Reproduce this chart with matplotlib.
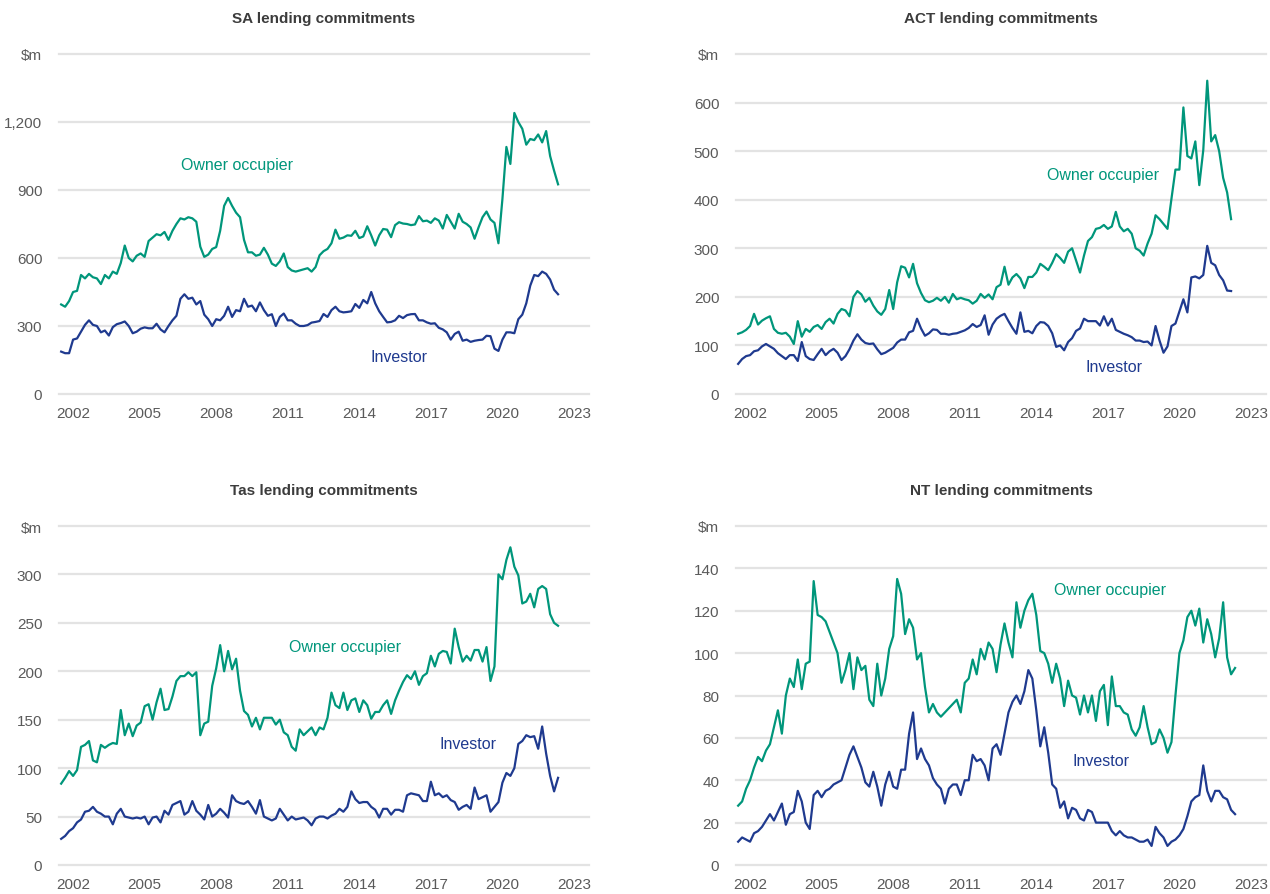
import numpy as np
import matplotlib
matplotlib.use("Agg")
import matplotlib.pyplot as plt
from matplotlib import font_manager

# fuente estrecha si existe
nombres = {f.name for f in font_manager.fontManager.ttflist}
FUENTE = "Liberation Sans Narrow" if "Liberation Sans Narrow" in nombres else "Liberation Sans"
plt.rcParams["font.family"] = [FUENTE, "DejaVu Sans"]

VERDE = "#00967b"
AZUL = "#1f3a8f"
GRIS = "#5a5a5a"
REJILLA = "#e3e3e3"

INICIO = 2001.5  # primer dato, cada punto = 2 meses

sa_oo = [395, 385, 410, 450, 455, 525, 510, 530, 515, 510, 485, 525,
         510, 540, 530, 578, 655, 600, 585, 610, 620, 605, 675, 690,
         705, 700, 715, 680, 720, 750, 775, 770, 780, 775, 760, 650,
         605, 615, 640, 648, 720, 830, 865, 830, 800, 780, 680, 625,
         625, 610, 615, 645, 615, 575, 565, 585, 620, 560, 545, 540,
         545, 550, 555, 540, 560, 612, 630, 640, 665, 725, 685, 690,
         700, 698, 720, 688, 695, 740, 700, 655, 700, 728, 725, 692,
         745, 758, 752, 750, 745, 748, 785, 762, 765, 755, 775, 765,
         730, 790, 760, 730, 795, 760, 750, 735, 685, 735, 780, 805,
         770, 755, 665, 860, 1090, 1015, 1240, 1200, 1170, 1100, 1125, 1120,
         1145, 1110, 1160, 1050, 985, 925]
sa_inv = [187, 180, 180, 240, 245, 275, 305, 325, 305, 300, 272, 280,
          258, 295, 308, 313, 320, 300, 268, 275, 288, 294, 290, 290,
          310, 285, 272, 300, 325, 345, 420, 440, 420, 425, 395, 410,
          350, 330, 300, 330, 325, 345, 385, 340, 370, 365, 420, 385,
          390, 365, 404, 370, 345, 352, 300, 340, 355, 325, 325, 310,
          300, 300, 304, 315, 318, 322, 353, 340, 370, 385, 365, 360,
          362, 365, 397, 380, 415, 400, 450, 400, 365, 340, 316, 318,
          325, 345, 335, 348, 352, 353, 325, 325, 316, 310, 312, 292,
          285, 272, 240, 265, 275, 235, 240, 230, 235, 238, 240, 257,
          255, 200, 190, 240, 272, 272, 268, 330, 350, 400, 478, 525,
          520, 540, 530, 505, 460, 440]

act_oo = [124, 127, 132, 140, 165, 143, 151, 156, 160, 134, 126, 124,
          126, 118, 103, 150, 118, 134, 128, 138, 142, 134, 148, 155,
          145, 165, 175, 172, 160, 200, 212, 205, 190, 198, 182, 170,
          163, 175, 214, 175, 230, 263, 260, 240, 268, 228, 208, 193,
          189, 192, 198, 192, 200, 188, 206, 195, 198, 195, 193, 186,
          192, 206, 198, 205, 195, 220, 225, 262, 225, 240, 247, 238,
          218, 241, 241, 250, 268, 262, 255, 270, 288, 280, 270, 293,
          300, 275, 250, 285, 315, 323, 340, 342, 348, 340, 345, 375,
          345, 335, 340, 330, 300, 295, 285, 310, 330, 368, 360, 350,
          340, 402, 462, 462, 590, 490, 485, 520, 430, 502, 645, 520,
          533, 500, 445, 415, 360]
act_inv = [62, 72, 78, 80, 88, 90, 98, 103, 98, 93, 84, 78,
           72, 80, 80, 68, 107, 78, 72, 70, 82, 93, 80, 88,
           93, 85, 70, 78, 92, 110, 123, 112, 105, 103, 104, 92,
           82, 85, 90, 95, 106, 112, 112, 127, 130, 155, 135, 120,
           125, 133, 132, 124, 124, 122, 124, 125, 128, 131, 136, 144,
           138, 142, 162, 122, 143, 155, 161, 165, 150, 136, 124, 168,
           128, 130, 125, 140, 148, 147, 140, 125, 97, 100, 90, 107,
           115, 130, 135, 155, 150, 150, 150, 141, 160, 141, 155, 132,
           128, 124, 121, 117, 110, 110, 107, 108, 100, 140, 110, 85,
           98, 140, 145, 170, 195, 168, 240, 242, 238, 245, 305, 270,
           265, 245, 234, 213, 212]

tas_oo = [84, 90, 97, 92, 98, 122, 124, 128, 108, 106, 124, 121,
          124, 126, 125, 160, 134, 146, 133, 144, 147, 164, 166, 150,
          168, 182, 160, 161, 174, 190, 195, 195, 199, 195, 199, 134,
          146, 148, 185, 203, 227, 200, 221, 202, 213, 180, 159, 155,
          143, 152, 140, 152, 152, 152, 145, 150, 137, 134, 122, 118,
          140, 134, 138, 142, 134, 142, 140, 152, 178, 165, 162, 178,
          160, 170, 172, 158, 170, 165, 151, 158, 158, 165, 170, 156,
          170, 180, 189, 196, 192, 200, 186, 195, 198, 216, 205, 218,
          221, 220, 208, 244, 225, 210, 216, 211, 222, 222, 210, 225,
          190, 205, 300, 295, 315, 328, 308, 299, 270, 272, 280, 266,
          285, 288, 285, 259, 250, 247]
tas_inv = [27, 30, 35, 38, 44, 47, 55, 56, 60, 55, 53, 50,
           50, 42, 53, 58, 50, 49, 48, 49, 48, 50, 42, 49,
           50, 44, 56, 52, 62, 64, 66, 52, 55, 66, 56, 52,
           47, 62, 50, 53, 58, 54, 49, 72, 66, 64, 63, 66,
           60, 53, 67, 50, 48, 46, 48, 58, 52, 46, 50, 47,
           48, 49, 46, 41, 48, 50, 50, 48, 51, 53, 58, 55,
           60, 76, 68, 64, 65, 65, 60, 57, 49, 58, 58, 52,
           57, 57, 55, 72, 74, 73, 72, 66, 66, 86, 72, 74,
           70, 72, 67, 65, 57, 60, 62, 58, 80, 68, 70, 72,
           55, 60, 65, 85, 95, 92, 100, 125, 128, 134, 132, 133,
           120, 143, 115, 92, 76, 90]

nt_oo = [28, 30, 36, 40, 46, 51, 49, 54, 57, 65, 73, 62,
         80, 88, 84, 97, 83, 95, 96, 134, 118, 117, 115, 110,
         105, 100, 86, 92, 100, 83, 98, 92, 94, 78, 75, 95,
         80, 88, 102, 108, 135, 128, 109, 116, 112, 97, 100, 84,
         72, 76, 72, 70, 72, 74, 76, 78, 72, 86, 88, 97,
         90, 102, 97, 105, 102, 91, 104, 114, 105, 98, 124, 112,
         120, 125, 128, 118, 101, 100, 95, 86, 95, 88, 75, 87,
         80, 79, 71, 80, 72, 80, 68, 82, 85, 66, 89, 75,
         75, 72, 71, 64, 61, 65, 75, 65, 57, 58, 64, 60,
         53, 58, 80, 100, 106, 117, 120, 113, 121, 105, 116, 109,
         98, 107, 124, 98, 90, 93]
nt_inv = [11, 13, 12, 11, 15, 16, 18, 21, 24, 21, 25, 29,
          19, 24, 25, 35, 30, 20, 17, 33, 35, 32, 35, 36,
          38, 39, 40, 46, 52, 56, 51, 46, 39, 37, 44, 37,
          28, 38, 44, 37, 36, 45, 45, 62, 72, 50, 55, 50,
          47, 41, 38, 36, 29, 36, 38, 38, 33, 40, 40, 52,
          49, 50, 47, 40, 55, 57, 52, 62, 72, 77, 80, 76,
          82, 92, 88, 73, 56, 65, 53, 38, 36, 27, 30, 22,
          27, 26, 22, 21, 26, 25, 20, 20, 20, 20, 16, 14,
          16, 14, 13, 13, 12, 11, 11, 12, 9, 18, 15, 13,
          9, 11, 12, 14, 17, 23, 30, 32, 33, 47, 35, 30,
          35, 35, 32, 31, 26, 24]

anios = [2002, 2005, 2008, 2011, 2014, 2017, 2020, 2023]

fig = plt.figure(figsize=(12.7, 8.95), dpi=100)
W, H = 1270, 895


def panel(rect_px, titulo, oo, inv, ymax, paso, pos_oo, pos_inv):
    x0, y0, x1, y1 = rect_px
    ax = fig.add_axes([x0 / W, 1 - y1 / H, (x1 - x0) / W, (y1 - y0) / H])
    t_oo = INICIO + np.arange(len(oo)) / 6
    t_inv = INICIO + np.arange(len(inv)) / 6

    ticks = np.arange(0, ymax + paso, paso)
    for v in ticks:
        ax.axhline(v, color=REJILLA, lw=1.6, zorder=0, clip_on=False)
    ax.plot(t_oo, oo, color=VERDE, lw=1.6, zorder=3, clip_on=False)
    ax.plot(t_inv, inv, color=AZUL, lw=1.6, zorder=3, clip_on=False)

    ax.set_xlim(2001.41, 2023.63)
    ax.set_ylim(0, ymax)
    ax.set_xticks(anios)
    ax.set_xticklabels([str(a) for a in anios])
    etiquetas = [f"{int(v):,}" for v in ticks]
    etiquetas[-1] = "$m"
    ax.set_yticks(ticks)
    ax.set_yticklabels(etiquetas)
    ax.tick_params(axis="both", length=0, labelsize=11, labelcolor=GRIS)
    ax.tick_params(axis="y", pad=12)
    ax.tick_params(axis="x", pad=9)
    for s in ax.spines.values():
        s.set_visible(False)
    ax.set_facecolor("none")

    ax.set_title(titulo, fontsize=11, fontweight="bold", color="#3c3c3c", pad=23)
    ax.text(pos_oo[0], pos_oo[1], "Owner occupier", transform=ax.transAxes,
            color=VERDE, fontsize=11.5, ha="center", va="center")
    ax.text(pos_inv[0], pos_inv[1], "Investor", transform=ax.transAxes,
            color=AZUL, fontsize=11.5, ha="center", va="center")
    return ax


panel((59, 55, 589, 395), "SA lending commitments", sa_oo, sa_inv, 1500, 300,
      (0.336, 0.674), (0.642, 0.109))
panel((736, 55, 1266, 395), "ACT lending commitments", act_oo, act_inv, 700, 100,
      (0.692, 0.647), (0.713, 0.082))
panel((59, 527, 589, 866), "Tas lending commitments", tas_oo, tas_inv, 350, 50,
      (0.540, 0.646), (0.772, 0.357))
panel((736, 527, 1266, 866), "NT lending commitments", nt_oo, nt_inv, 160, 20,
      (0.706, 0.814), (0.689, 0.307))

fig.savefig("out.png", dpi=100, facecolor="white")
